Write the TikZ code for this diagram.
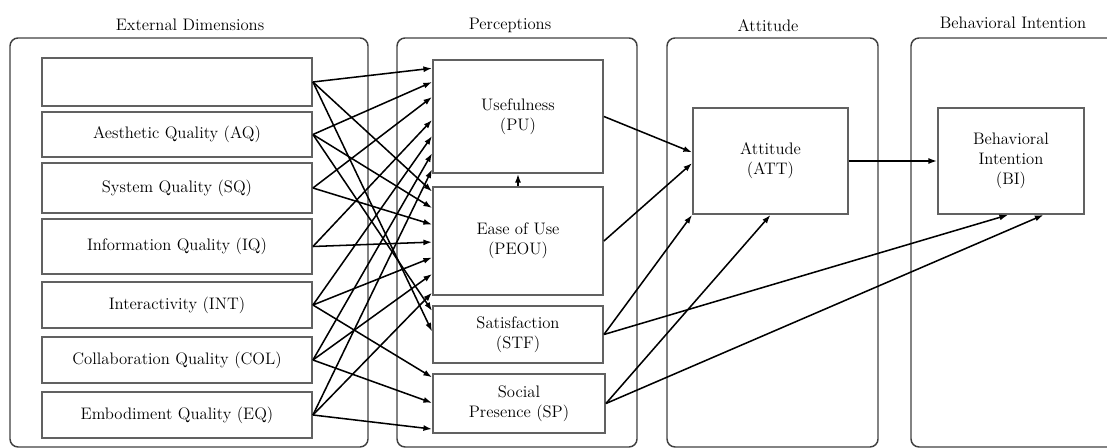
\documentclass[tikz,border=0pt]{standalone}
\usetikzlibrary{arrows.meta,calc}
\begin{document}
\begin{tikzpicture}[x=0.75pt,y=-0.75pt,
  every node/.style={font=\rmfamily\fontsize{12.5}{15}\selectfont},
  grp/.style={draw=black!75, line width=1.1pt, rounded corners=6pt},
  box/.style={draw=black!62, line width=1.4pt, align=center, inner sep=0pt, fill=white},
  lbox/.style={box, minimum width=202.5pt},
  pbox/.style={box, minimum width=127.5pt},
  arr/.style={-{Latex[length=6.5pt,width=4.5pt]}, line width=1.15pt, black},
  ttl/.style={inner sep=0pt}]
\useasboundingbox (0,0) rectangle (1107,448);
\clip (0,0) rectangle (1107,448);
% group frames
\draw[grp] (10,38) rectangle (368,447);
\draw[grp] (397,38) rectangle (637,447);
\draw[grp] (667,38) rectangle (878,447);
\draw[grp] (911,38) rectangle (1130,447);
% titles
\node[ttl] (tE) at (190,25) {External Dimensions};
\node[ttl] (tP) at (510,25) {Perceptions};
\node[ttl] (tA) at (768,26) {Attitude};
\node[ttl] (tB) at (1013,23) {Behavioral Intention};
% external boxes
\node[lbox, minimum height=36pt]    (E0)  at (177,82)    {};
\node[lbox, minimum height=33.75pt] (AQ)  at (177,134.5) {Aesthetic Quality (AQ)};
\node[lbox, minimum height=37.5pt]  (SQ)  at (177,188)   {System Quality (SQ)};
\node[lbox, minimum height=41.25pt] (IQ)  at (177,246.5) {Information Quality (IQ)};
\node[lbox, minimum height=34.5pt]  (INT) at (177,305)   {Interactivity (INT)};
\node[lbox, minimum height=34.5pt]  (COL) at (177,360)   {Collaboration Quality (COL)};
\node[lbox, minimum height=34.5pt]  (EQ)  at (177,415)   {Embodiment Quality (EQ)};
% perception boxes
\node[pbox, minimum height=84.75pt] (PU)   at (518,116.5) {Usefulness\\(PU)};
\node[pbox, minimum height=81pt]    (PEOU) at (518,241)   {Ease of Use\\(PEOU)};
\node[pbox, minimum height=42.75pt] (STF)  at (518,334.5) {Satisfaction\\(STF)};
\node[box, minimum width=129pt, minimum height=44.25pt] (SP) at (519,403.5) {Social\\Presence (SP)};
% attitude and intention
\node[box, minimum width=116.25pt, minimum height=79.5pt] (ATT) at (770.5,161) {Attitude\\(ATT)};
\node[box, minimum width=109.5pt, minimum height=79.5pt] (BI) at (1011,161) {Behavioral\\Intention\\(BI)};
% external -> PU
\foreach \s/\f in {E0/0.08, AQ/0.2, SQ/0.33, IQ/0.53, INT/0.67, COL/0.82, EQ/0.96}
  \draw[arr] (\s.east) -- ($(PU.north west)!\f!(PU.south west)$);
% external -> PEOU
\foreach \s/\f in {E0/0.05, AQ/0.2, SQ/0.35, IQ/0.51, INT/0.65, COL/0.8, EQ/0.97}
  \draw[arr] (\s.east) -- ($(PEOU.north west)!\f!(PEOU.south west)$);
% external -> STF
\foreach \s/\f in {AQ/0.1, E0/0.45}
  \draw[arr] (\s.east) -- ($(STF.north west)!\f!(STF.south west)$);
% external -> SP
\foreach \s/\f in {INT/0.07, COL/0.49, EQ/0.92}
  \draw[arr] (\s.east) -- ($(SP.north west)!\f!(SP.south west)$);
% PEOU -> PU
\draw[arr] (PEOU.north) -- (PU.south);
% perceptions -> attitude
\draw[arr] (PU.east) -- ($(ATT.north west)!0.42!(ATT.south west)$);
\draw[arr] (PEOU.east) -- ($(ATT.north west)!0.52!(ATT.south west)$);
\draw[arr] (STF.east) -- (ATT.south west);
\draw[arr] (SP.east) -- (ATT.south);
% perceptions -> intention
\draw[arr] (STF.east) -- ($(BI.south west)!0.48!(BI.south east)$);
\draw[arr] (SP.east) -- ($(BI.south west)!0.72!(BI.south east)$);
% attitude -> intention
\draw[arr] (ATT.east) -- (BI.west);
\end{tikzpicture}
\end{document}
